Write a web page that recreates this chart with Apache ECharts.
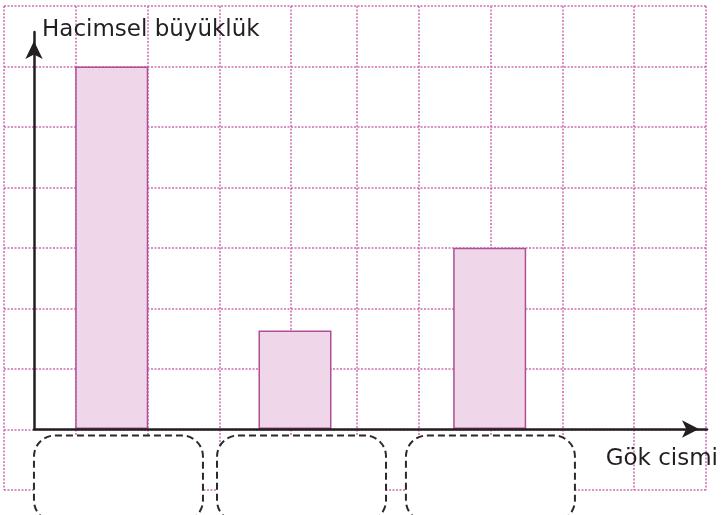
<!DOCTYPE html>
<html>
<head>
<meta charset="utf-8">
<script src="https://cdn.jsdelivr.net/npm/echarts@6/dist/echarts.min.js"></script>
<style>
  html, body { margin: 0; padding: 0; background: #fff; }
  #chart { width: 721px; height: 515px; }
</style>
</head>
<body>
<div id="chart"></div>
<script>
// bodies are left blank in the worksheet, only the boxes are drawn
const categories = ['', '', '']
const slotX = [1.155, 3.878, 6.771]
const labelX = [1.255, 3.975, 6.782]
const volumes = [6, 1.63, 3]

// notebook lattice behind the chart
const latticeCols = [0, 71.5, 144, 215.5, 287, 353, 415, 487, 559, 630, 702]
const latticeRows = 8

const ink = '#231F20'
const font = 'DejaVu Sans'

function latticeLine() {
  return { show: true, lineStyle: { color: '#CC6FB0', width: 1.5, type: [2, 1.5] } }
}

const chart = echarts.init(document.getElementById('chart'))

chart.setOption({
  animation: false,
  grid: [
    { left: 34, right: 14, top: 32, bottom: 86 },
    { left: 4, right: 15, top: 6, bottom: 25 }
  ],
  xAxis: [
    {
      type: 'value',
      gridIndex: 0,
      min: 0,
      max: 10,
      z: 5,
      name: 'Gök cismi',
      nameLocation: 'end',
      nameGap: 11,
      nameTextStyle: {
        fontFamily: font,
        fontSize: 23,
        color: ink,
        align: 'right',
        verticalAlign: 'top',
        padding: [19, 0, 0, 0]
      },
      axisLine: {
        lineStyle: { color: ink, width: 2.5 },
        symbol: ['none', 'arrow'],
        symbolSize: [13, 17],
        symbolOffset: [0, -8]
      },
      axisTick: { show: false },
      axisLabel: { show: false },
      splitLine: { show: false }
    },
    {
      type: 'value',
      gridIndex: 1,
      min: 0,
      max: 702,
      axisLine: { show: false },
      axisTick: { show: false, customValues: latticeCols },
      axisLabel: { show: false, customValues: latticeCols },
      splitLine: latticeLine()
    }
  ],
  yAxis: [
    {
      type: 'value',
      gridIndex: 0,
      min: 0,
      max: 6.57,
      z: 5,
      name: 'Hacimsel büyüklük',
      nameLocation: 'end',
      nameGap: 2,
      nameTextStyle: {
        fontFamily: font,
        fontSize: 23,
        color: ink,
        align: 'left',
        verticalAlign: 'middle',
        padding: [0, 0, 0, 8]
      },
      axisLine: {
        lineStyle: { color: ink, width: 2.5 },
        symbol: ['none', 'arrow'],
        symbolSize: [13, 18],
        symbolOffset: [0, -9]
      },
      axisTick: { show: false },
      axisLabel: { show: false },
      splitLine: { show: false }
    },
    {
      type: 'value',
      gridIndex: 1,
      min: 0,
      max: latticeRows,
      interval: 1,
      axisLine: { show: false },
      axisTick: { show: false },
      axisLabel: { show: false },
      splitLine: latticeLine()
    }
  ],
  series: [
    {
      type: 'bar',
      xAxisIndex: 0,
      yAxisIndex: 0,
      barWidth: 73,
      z: 3,
      itemStyle: {
        color: '#EFD7E9',
        borderColor: '#B04F97',
        borderWidth: 1.5
      },
      data: volumes.map((v, i) => [slotX[i], v])
    },
    {
      // dashed label boxes under each bar, running off the bottom edge
      type: 'custom',
      xAxisIndex: 0,
      yAxisIndex: 0,
      z: 2,
      clip: false,
      data: categories.map((c, i) => [labelX[i], 0, c]),
      renderItem(params, api) {
        const p = api.coord([api.value(0), api.value(1)])
        return {
          type: 'rect',
          shape: { x: p[0] - 84.5, y: p[1] + 6.5, width: 169, height: 86, r: 21 },
          style: {
            fill: '#fff',
            stroke: '#2A2A2A',
            lineWidth: 2,
            lineDash: [7, 4]
          }
        }
      }
    }
  ]
})
</script>
</body>
</html>
